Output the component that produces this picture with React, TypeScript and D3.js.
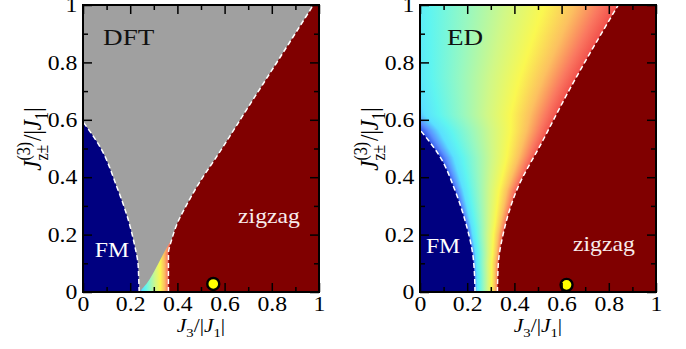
import React, { useEffect, useRef } from 'react';
import * as d3 from 'd3';

const W = 686, H = 349;
const plotW = 236, plotTop = 5, plotBottom = 292;
const FONT = 'Liberation Serif, Times New Roman, serif';
const STRETCH = 1.13;

const majorTicks = [0, 0.2, 0.4, 0.6, 0.8, 1];
const minorTicks = [0.1, 0.3, 0.5, 0.7, 0.9];
const tickLabels = ['0', '0.2', '0.4', '0.6', '0.8', '1'];

// phase boundaries, [J3/|J1|, Jz/|J1|], ordered by Jz
const dftFmBoundary = [[0.238, 0], [0.236, 0.05], [0.233, 0.1], [0.22, 0.158], [0.192, 0.251], [0.143, 0.367], [0.072, 0.506], [0, 0.593]];
const dftZigzagBoundary = [[0.362, 0], [0.362, 0.134], [0.375, 0.18], [0.4, 0.24], [0.44, 0.305], [0.496, 0.385], [0.565, 0.47], [0.7, 0.644], [0.85, 0.837], [0.976, 1]];
const dftGrayEdge = [[0.238, 0], [0.27, 0.03], [0.312, 0.088], [0.353, 0.152], [0.38, 0.19]];
const edFmBoundary = [[0.233, 0], [0.231, 0.06], [0.223, 0.135], [0.198, 0.228], [0.148, 0.355], [0.085, 0.471], [0, 0.565]];
const edBandLeftBeyondAxis = [[-0.08, 0.62], [-0.15, 0.75], [-0.22, 1]];
const edZigzagBoundary = [[0.328, 0], [0.332, 0.1], [0.353, 0.204], [0.41, 0.355], [0.52, 0.527], [0.63, 0.7], [0.84, 1]];

const dftPoint = [0.552, 0.028];
const edPoint = [0.621, 0.025];

// colour scale across the crossover band (FM side -> zigzag side)
const bandOffsets = [0, 0.08, 0.16, 0.25, 0.4, 0.55, 0.7, 0.82, 0.92, 1];
const bandColors = ['#2840e0', '#5a90ff', '#5ae0ff', '#5ff5f0', '#98f8c0', '#d0f888', '#faf850', '#fcc060', '#fa7860', '#f04848'];

const panels = [
  {
    left: 83, title: 'DFT', fm: dftFmBoundary, bandLeft: dftFmBoundary, zz: dftZigzagBoundary,
    gray: dftGrayEdge, bandTop: 0.22, point: dftPoint,
    titlePos: [0.085, 0.86], fmPos: [0.05, 0.122], zzPos: [0.657, 0.24],
  },
  {
    left: 420, title: 'ED', fm: edFmBoundary, bandLeft: edFmBoundary.concat(edBandLeftBeyondAxis), zz: edZigzagBoundary,
    gray: null, bandTop: 1, point: edPoint,
    titlePos: [0.114, 0.86], fmPos: [0.025, 0.136], zzPos: [0.648, 0.143],
  },
];

function xAt(pts: number[][], yv: number) {
  if (yv <= pts[0][1]) return pts[0][0];
  for (let k = 1; k < pts.length; k++) {
    if (yv <= pts[k][1]) {
      const [x0, y0] = pts[k - 1], [x1, y1] = pts[k];
      return x0 + (x1 - x0) * (yv - y0) / (y1 - y0);
    }
  }
  return pts[pts.length - 1][0];
}

function App() {
  const ref = useRef<SVGSVGElement>(null);

  useEffect(() => {
    const svg = d3.select(ref.current);
    svg.selectAll('*').remove();
    const defs = svg.append('defs');

    const grad = defs.append('linearGradient').attr('id', 'band-grad');
    bandOffsets.forEach((o, i) => {
      grad.append('stop').attr('offset', o).attr('stop-color', bandColors[i]);
    });

    panels.forEach((p, i) => {
      const x = d3.scaleLinear().domain([0, 1]).range([p.left, p.left + plotW]);
      const y = d3.scaleLinear().domain([0, 1]).range([plotBottom, plotTop]);
      const line = d3.line<number[]>().x(d => x(d[0])).y(d => y(d[1])).curve(d3.curveMonotoneY);

      defs.append('clipPath').attr('id', `clip-${i}`)
        .append('rect')
        .attr('x', x(0)).attr('y', y(1))
        .attr('width', plotW).attr('height', plotBottom - plotTop);

      const g = svg.append('g').attr('clip-path', `url(#clip-${i})`);

      // crossover band as thin strips stretched between the two boundaries
      const step = 0.004;
      g.append('g')
        .selectAll('rect')
        .data(d3.range(0, p.bandTop, step))
        .join('rect')
        .attr('x', d => x(xAt(p.bandLeft, d + step / 2)) - 2)
        .attr('width', d => x(xAt(p.zz, d + step / 2)) - x(xAt(p.bandLeft, d + step / 2)) + 4)
        .attr('y', d => y(d + step) - 0.5)
        .attr('height', d => y(d) - y(d + step) + 1)
        .attr('fill', 'url(#band-grad)');

      if (p.gray) {
        const edge = line(p.gray)!.replace(/^M/, 'L');
        const last = p.gray[p.gray.length - 1];
        g.append('path')
          .attr('d', `M${x(0)},${y(0)}${edge}L${x(1)},${y(last[1])}L${x(1)},${y(1)}L${x(0)},${y(1)}Z`)
          .attr('fill', '#a0a0a0');
      }

      g.append('path')
        .attr('d', `${line(p.fm)}L${x(0)},${y(0)}Z`)
        .attr('fill', '#000080');
      g.append('path')
        .attr('d', `${line(p.zz)}L${x(1)},${y(1)}L${x(1)},${y(0)}Z`)
        .attr('fill', '#800000');

      [p.fm, p.zz].forEach(b => {
        g.append('path')
          .attr('d', line(b))
          .attr('fill', 'none')
          .attr('stroke', '#ffffff')
          .attr('stroke-width', 1.5)
          .attr('stroke-dasharray', '5,3');
      });

      // labels inside the plot
      const label = (pos: number[], txt: string, size: number, color: string) => {
        g.append('text')
          .attr('transform', `translate(${x(pos[0])},${y(pos[1])}) scale(${STRETCH},1)`)
          .attr('font-family', FONT)
          .attr('font-size', size)
          .attr('fill', color)
          .text(txt);
      };
      label(p.titlePos, p.title, 24, '#111');
      label(p.fmPos, 'FM', 21, '#ffffff');
      label(p.zzPos, 'zigzag', 21, '#f8ecec');

      g.append('circle')
        .attr('cx', x(p.point[0]))
        .attr('cy', y(p.point[1]))
        .attr('r', 6)
        .attr('fill', '#ffff00')
        .attr('stroke', '#000')
        .attr('stroke-width', 2.4);

      // ticks, pointing inward on all four sides
      const styleAxis = (sel: any) => {
        sel.select('.domain').remove();
        sel.attr('font-family', FONT).attr('font-size', 21);
        sel.selectAll('line').attr('stroke', '#000').attr('stroke-width', 1.5);
        sel.selectAll('text').attr('fill', '#000').attr('transform', `scale(${STRETCH},1)`);
      };
      const addAxis = (axis: any, tx: number, ty: number) => {
        svg.append('g').attr('transform', `translate(${tx},${ty})`).call(axis).call(styleAxis);
      };
      const fmt = (d: any, k: number) => tickLabels[k];
      addAxis(d3.axisBottom(x).tickValues(majorTicks).tickSize(-9).tickSizeOuter(0).tickPadding(4).tickFormat(fmt), 0, plotBottom);
      addAxis(d3.axisLeft(y).tickValues(majorTicks).tickSize(-9).tickSizeOuter(0).tickPadding(5).tickFormat(fmt), p.left, 0);
      addAxis(d3.axisTop(x).tickValues(majorTicks).tickSize(-9).tickSizeOuter(0).tickFormat(() => ''), 0, plotTop);
      addAxis(d3.axisRight(y).tickValues(majorTicks).tickSize(-9).tickSizeOuter(0).tickFormat(() => ''), p.left + plotW, 0);
      addAxis(d3.axisBottom(x).tickValues(minorTicks).tickSize(-5).tickSizeOuter(0).tickFormat(() => ''), 0, plotBottom);
      addAxis(d3.axisLeft(y).tickValues(minorTicks).tickSize(-5).tickSizeOuter(0).tickFormat(() => ''), p.left, 0);
      addAxis(d3.axisTop(x).tickValues(minorTicks).tickSize(-5).tickSizeOuter(0).tickFormat(() => ''), 0, plotTop);
      addAxis(d3.axisRight(y).tickValues(minorTicks).tickSize(-5).tickSizeOuter(0).tickFormat(() => ''), p.left + plotW, 0);

      svg.append('rect')
        .attr('x', x(0)).attr('y', y(1))
        .attr('width', plotW).attr('height', plotBottom - plotTop)
        .attr('fill', 'none')
        .attr('stroke', '#000')
        .attr('stroke-width', 2);

      // x axis title: J3/|J1|
      const xt = svg.append('text')
        .attr('transform', `translate(${x(0.5)},332) scale(${STRETCH},1)`)
        .attr('text-anchor', 'middle')
        .attr('font-family', FONT)
        .attr('font-size', 19);
      xt.append('tspan').attr('font-style', 'italic').text('J');
      xt.append('tspan').attr('font-size', 13).attr('dy', 5).text('3');
      xt.append('tspan').attr('dy', -5).text('/|');
      xt.append('tspan').attr('font-style', 'italic').text('J');
      xt.append('tspan').attr('font-size', 13).attr('dy', 5).text('1');
      xt.append('tspan').attr('dy', -5).text('|');

      // y axis title: J^(3)_z±/|J1|
      const yt = svg.append('text')
        .attr('transform', `translate(${p.left - 42},139) rotate(-90) scale(1,${STRETCH})`)
        .attr('text-anchor', 'middle')
        .attr('font-family', FONT)
        .attr('font-size', 23);
      yt.append('tspan').attr('font-style', 'italic').text('J');
      yt.append('tspan').attr('font-size', 16).attr('dy', -10).text('(3)');
      yt.append('tspan').attr('font-size', 16).attr('dx', -18.7).attr('dy', 16).text('z±');
      yt.append('tspan').attr('dx', 3.5).attr('dy', -6).text('/|');
      yt.append('tspan').attr('font-style', 'italic').text('J');
      yt.append('tspan').attr('font-size', 16).attr('dy', 6).text('1');
      yt.append('tspan').attr('dy', -6).text('|');
    });
  }, []);

  return (
    <svg ref={ref} width={W} height={H}
      style={{ position: 'absolute', left: 0, top: 0, background: '#fff' }} />
  );
}

export default App;
